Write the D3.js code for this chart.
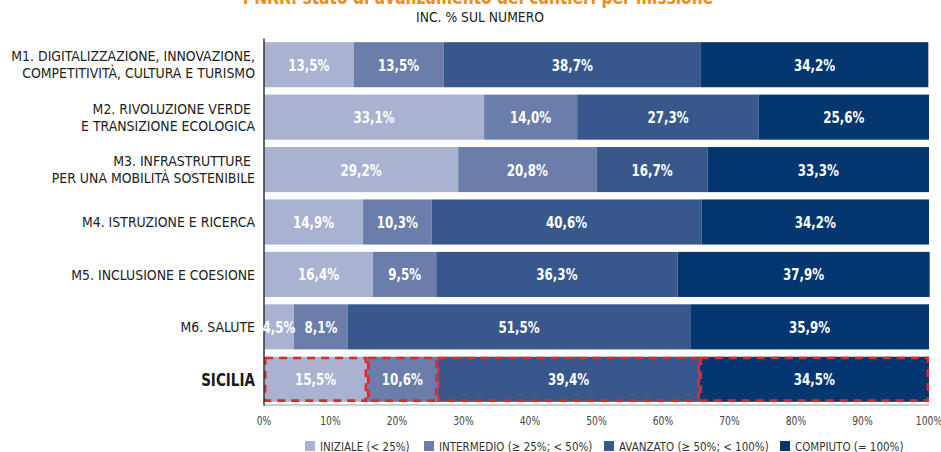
<!DOCTYPE html>
<html lang="it">
<head>
<meta charset="utf-8">
<script src="https://cdn.jsdelivr.net/npm/d3@7"></script>
<style>
  html, body { margin: 0; padding: 0; background: #fff; }
  svg { display: block; }
  text { font-family: "DejaVu Sans Condensed", "DejaVu Sans", sans-serif; }
</style>
</head>
<body>
<svg id="chart" width="941" height="452"></svg>
<script>
// Missioni PNRR e totale regionale
const categories = [
  ["M1. DIGITALIZZAZIONE, INNOVAZIONE,", "COMPETITIVITÀ, CULTURA E TURISMO"],
  ["M2. RIVOLUZIONE VERDE\u00a0", "E TRANSIZIONE ECOLOGICA"],
  ["M3. INFRASTRUTTURE\u00a0", "PER UNA MOBILITÀ SOSTENIBILE"],
  ["M4. ISTRUZIONE E RICERCA"],
  ["M5. INCLUSIONE E COESIONE"],
  ["M6. SALUTE"],
  ["SICILIA"]
];
const categoryKeys = ["M1", "M2", "M3", "M4", "M5", "M6", "SICILIA"];

// Quote percentuali per stato di avanzamento
const iniziale   = [13.5, 33.1, 29.2, 14.9, 16.4,  4.5, 15.5];
const intermedio = [13.5, 14.0, 20.8, 10.3,  9.5,  8.1, 10.6];
const avanzato   = [38.7, 27.3, 16.7, 40.6, 36.3, 51.5, 39.4];
const compiuto   = [34.2, 25.6, 33.3, 34.2, 37.9, 35.9, 34.5];

const seriesNames = ["INIZIALE (< 25%)", "INTERMEDIO (≥ 25%; < 50%)", "AVANZATO (≥ 50%; < 100%)", "COMPIUTO (= 100%)"];
const seriesColors = ["#a9b2d0", "#6b7daa", "#38588c", "#043670"];
const xTicks = [0, 10, 20, 30, 40, 50, 60, 70, 80, 90, 100];

const titleText = "PNRR: stato di avanzamento dei cantieri per missione";
const subtitleText = "INC. % SUL NUMERO";

const svg = d3.select("#chart");
const plotLeft = 264, plotRight = 929, plotTop = 38.5, plotBottom = 405.5;

const x = d3.scaleLinear().domain([0, 100]).range([plotLeft, plotRight]);
const y = d3.scaleBand().domain(categoryKeys).range([plotTop, plotBottom]).paddingInner(0.14).paddingOuter(0.07);

const it = d3.formatLocale({ decimal: ",", thousands: ".", grouping: [3], currency: ["€", ""] });
const fmt = it.format(".1f");

// Testo compresso orizzontalmente, ancorato in (px, py)
function squeezed(parent, px, py, sx) {
  return parent.append("text").attr("transform", `translate(${px},${py}) scale(${sx},1)`);
}

const rows = categoryKeys.map((k, i) => ({
  key: k,
  values: [iniziale[i], intermedio[i], avanzato[i], compiuto[i]]
}));
const stack = d3.stack().keys([0, 1, 2, 3]).value((d, k) => d.values[k]);
const stacked = stack(rows);

// Titolo e sottotitolo
squeezed(svg, 478, 3.5, 0.86)
  .attr("text-anchor", "middle")
  .attr("fill", "#f28a22")
  .attr("font-weight", "bold")
  .attr("font-size", 20)
  .text(titleText);
squeezed(svg, 480, 22, 0.95)
  .attr("text-anchor", "middle")
  .attr("fill", "#222")
  .attr("font-size", 14.5)
  .text(subtitleText);

// Barre impilate
const layers = svg.append("g").selectAll("g")
  .data(stacked).join("g")
  .attr("fill", (d, i) => seriesColors[i]);

layers.selectAll("rect")
  .data(d => d.map(s => ({ s, key: s.data.key })))
  .join("rect")
  .attr("x", d => x(d.s[0]))
  .attr("y", d => y(d.key))
  .attr("width", d => x(d.s[1]) - x(d.s[0]))
  .attr("height", y.bandwidth());

// Riquadri tratteggiati per la Sicilia
svg.append("g").selectAll("rect")
  .data(stacked.map(layer => layer.find(d => d.data.key === "SICILIA")))
  .join("rect")
  .attr("x", d => x(d[0]) + 1.2)
  .attr("y", y("SICILIA") + 1.2)
  .attr("width", d => x(d[1]) - x(d[0]) - 2.4)
  .attr("height", y.bandwidth() - 2.4)
  .attr("fill", "none")
  .attr("stroke", "#e8242b")
  .attr("stroke-width", 2.6)
  .attr("stroke-dasharray", "8,6");

// Asse verticale e linea di base
svg.append("line")
  .attr("x1", x(0)).attr("x2", x(100))
  .attr("y1", plotBottom - 0.5).attr("y2", plotBottom - 0.5)
  .attr("stroke", "#9a9a9a").attr("stroke-width", 1);
svg.append("line")
  .attr("x1", x(0)).attr("x2", x(0))
  .attr("y1", plotTop).attr("y2", plotBottom)
  .attr("stroke", "#333").attr("stroke-width", 1.5);

// Etichette dei valori
const labels = svg.append("g");
stacked.forEach((layer, li) => {
  layer.forEach(d => {
    squeezed(labels, (x(d[0]) + x(d[1])) / 2, y(d.data.key) + y.bandwidth() / 2, 0.8)
      .attr("dy", "0.36em")
      .attr("text-anchor", "middle")
      .attr("fill", "#fff")
      .attr("font-weight", "bold")
      .attr("font-size", 16.5)
      .text(fmt(d.data.values[li]) + "%");
  });
});

// Etichette delle categorie
const catG = svg.append("g");
categoryKeys.forEach((k, i) => {
  const lines = categories[i];
  const isTotal = k === "SICILIA";
  const cy = y(k) + y.bandwidth() / 2;
  const lh = 17;
  const t = squeezed(catG, 255, cy, isTotal ? 0.86 : 0.98)
    .attr("text-anchor", "end")
    .attr("fill", isTotal ? "#1a1a1a" : "#222")
    .attr("font-size", isTotal ? 17.5 : 14.2)
    .attr("font-weight", isTotal ? "bold" : "normal");
  lines.forEach((ln, j) => {
    t.append("tspan")
      .attr("x", 0)
      .attr("y", (j - (lines.length - 1) / 2) * lh)
      .attr("dy", "0.36em")
      .text(ln);
  });
});

// Asse orizzontale
const xAxis = d3.axisBottom(x).tickValues(xTicks).tickSize(0).tickPadding(11).tickFormat(d => d + "%");
const ax = svg.append("g").attr("transform", `translate(0,${plotBottom})`).call(xAxis);
ax.select(".domain").remove();
ax.selectAll("text")
  .attr("font-size", 12.5)
  .attr("fill", "#444")
  .style("font-family", '"DejaVu Sans Condensed", sans-serif')
  .attr("transform", "scale(0.82,1)")
  .attr("x", 0);
// Compressione orizzontale attorno alla posizione di ciascun tick
ax.selectAll(".tick").each(function (d) {
  d3.select(this).attr("transform", `translate(${x(d)},0)`);
});

// Legenda
const legendX = [305, 424, 604, 780];
const lg = svg.append("g");
seriesNames.forEach((name, i) => {
  const g = lg.append("g").attr("transform", `translate(${legendX[i]},446)`);
  g.append("rect").attr("x", 0).attr("y", -5).attr("width", 10).attr("height", 10).attr("fill", seriesColors[i]);
  squeezed(g, 15, 0, 0.92).attr("dy", "0.36em")
    .attr("font-size", 12.5).attr("fill", "#333").text(name);
});
</script>
</body>
</html>
